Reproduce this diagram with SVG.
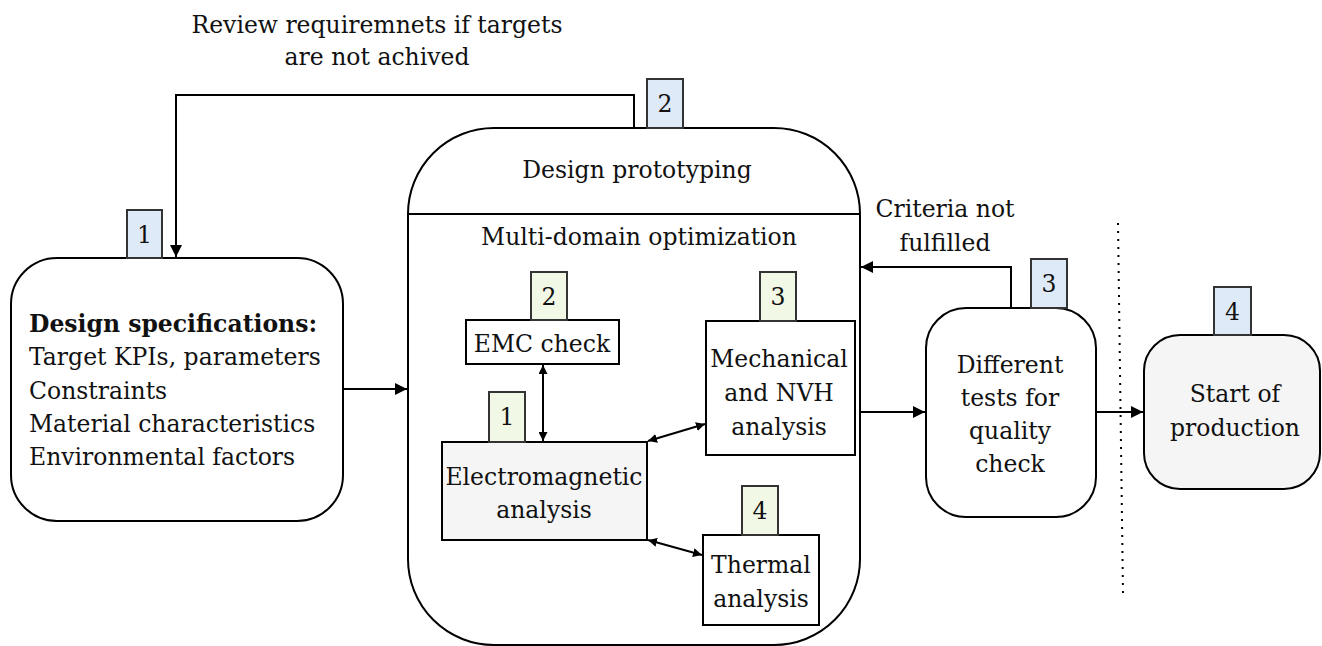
<svg xmlns="http://www.w3.org/2000/svg" width="1322" height="646" viewBox="0 0 1322 646">
<defs>
<marker id="ah" viewBox="0 0 10 10" refX="10" refY="5" markerWidth="12" markerHeight="12" markerUnits="userSpaceOnUse" orient="auto"><path d="M0,0 L10,5 L0,10 z" fill="#000"/></marker>
<marker id="as" viewBox="0 0 10 10" refX="10" refY="5" markerWidth="9" markerHeight="9" markerUnits="userSpaceOnUse" orient="auto-start-reverse"><path d="M0,0 L10,5 L0,10 z" fill="#000"/></marker>
<style>
text{font-family:"DejaVu Serif","Liberation Serif",serif;font-size:23.5px;fill:#111;text-anchor:middle}
.l{text-anchor:start}
.b{font-weight:bold}
.box{fill:#fff;stroke:#000;stroke-width:2}
.grey{fill:#f5f5f5;stroke:#000;stroke-width:2}
.bb{fill:#dfeaf8;stroke:#333;stroke-width:2}
.gb{fill:#f1f8e6;stroke:#333;stroke-width:2}
.c{fill:none;stroke:#000;stroke-width:2}
</style>
</defs>
<text x="377" y="33">Review requiremnets if targets</text>
<text x="377" y="65">are not achived</text>
<g id="spec">
<rect class="box" x="11" y="258" width="332" height="263" rx="46"/>
<rect class="bb" x="127" y="210" width="35" height="48"/>
<text x="144.5" y="243">1</text>
<text class="l b" x="29" y="332">Design specifications:</text>
<text class="l" x="29" y="365">Target KPIs, parameters</text>
<text class="l" x="29" y="399">Constraints</text>
<text class="l" x="29" y="432">Material characteristics</text>
<text class="l" x="29" y="465">Environmental factors</text>
</g>
<g id="proto">
<rect class="box" x="408" y="128" width="452" height="517" rx="86"/>
<line class="c" x1="408" y1="214" x2="860" y2="214"/>
<rect class="bb" x="647" y="79" width="36" height="49"/>
<text x="665" y="112">2</text>
<text x="637" y="178">Design prototyping</text>
<text x="639" y="245">Multi-domain optimization</text>
</g>
<g id="emc">
<rect class="box" x="466" y="320" width="153" height="44"/>
<rect class="gb" x="531" y="272" width="36" height="48"/>
<text x="549" y="305">2</text>
<text x="542" y="352">EMC check</text>
</g>
<g id="em">
<rect class="grey" x="442" y="442" width="205" height="98"/>
<rect class="gb" x="489" y="392" width="36" height="50"/>
<text x="507" y="425">1</text>
<text x="544" y="485">Electromagnetic</text>
<text x="544" y="518">analysis</text>
</g>
<g id="mech">
<rect class="box" x="706" y="321" width="149" height="134"/>
<rect class="gb" x="760" y="272" width="36" height="49"/>
<text x="778" y="305">3</text>
<text x="779" y="367">Mechanical</text>
<text x="779" y="401">and NVH</text>
<text x="779" y="435">analysis</text>
</g>
<g id="thermal">
<rect class="box" x="703" y="535" width="116" height="90"/>
<rect class="gb" x="742" y="486" width="36" height="49"/>
<text x="760" y="519">4</text>
<text x="761" y="573">Thermal</text>
<text x="761" y="607">analysis</text>
</g>
<g id="tests">
<rect class="box" x="926" y="308" width="170" height="209" rx="40"/>
<rect class="bb" x="1031" y="259" width="36" height="49"/>
<text x="1049" y="292">3</text>
<text x="1010" y="373">Different</text>
<text x="1010" y="406">tests for</text>
<text x="1010" y="439">quality</text>
<text x="1010" y="472">check</text>
</g>
<g id="sop">
<rect class="grey" x="1144" y="335" width="176" height="154" rx="36"/>
<rect class="bb" x="1214" y="287" width="37" height="48"/>
<text x="1232.5" y="320">4</text>
<text x="1235" y="402">Start of</text>
<text x="1235" y="436">production</text>
</g>
<text x="945" y="217">Criteria not</text>
<text x="945" y="251">fulfilled</text>
<g id="connectors">
<polyline class="c" points="634,128 634,95 176,95 176,257" marker-end="url(#ah)"/>
<line class="c" x1="343" y1="389" x2="407" y2="389" marker-end="url(#ah)"/>
<line class="c" x1="860" y1="412" x2="925" y2="412" marker-end="url(#ah)"/>
<line class="c" x1="1096" y1="412" x2="1143" y2="412" marker-end="url(#ah)"/>
<polyline class="c" points="1011,308 1011,267 861,267" marker-end="url(#ah)"/>
<line class="c" x1="543" y1="365" x2="543" y2="441" marker-start="url(#as)" marker-end="url(#as)" stroke-width="1.6"/>
<line class="c" x1="648" y1="441" x2="705" y2="424" marker-start="url(#as)" marker-end="url(#as)" stroke-width="1.6"/>
<line class="c" x1="648" y1="540" x2="702" y2="555" marker-start="url(#as)" marker-end="url(#as)" stroke-width="1.6"/>
<line x1="1118" y1="223" x2="1123" y2="593" stroke="#000" stroke-width="2" stroke-dasharray="2,6"/>
</g>
</svg>
